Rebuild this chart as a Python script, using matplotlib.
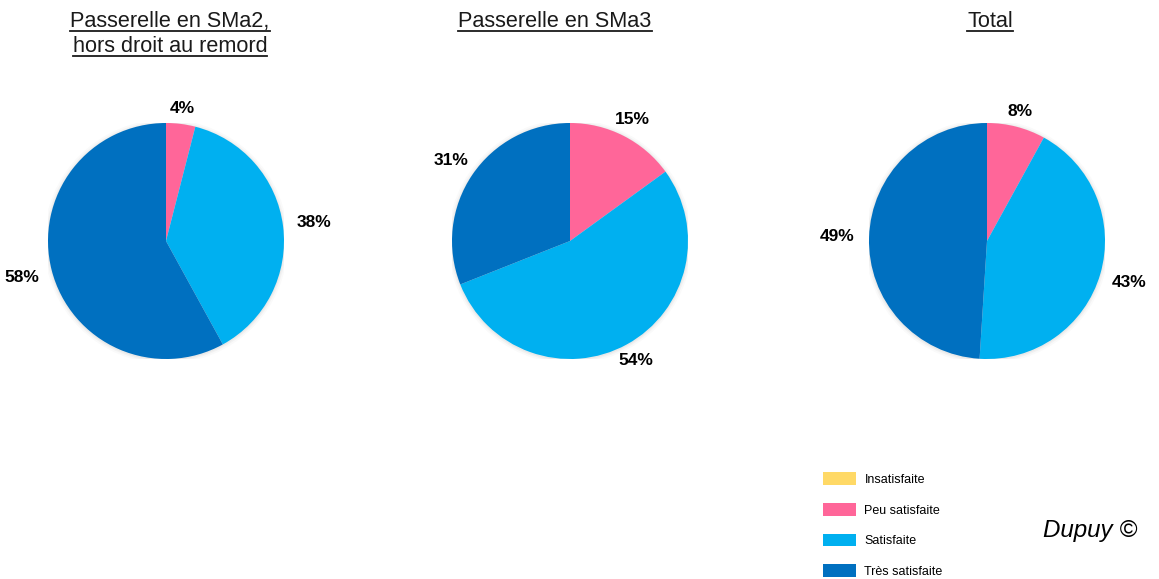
import math
import matplotlib
matplotlib.use('Agg')
import matplotlib.pyplot as plt
from matplotlib.patches import Patch, Circle

plt.rcParams['font.family'] = ['Liberation Sans', 'DejaVu Sans']

categories = ["Insatisfaite", "Peu satisfaite", "Satisfaite", "Très satisfaite"]
colors = ["#FFD966", "#FF6699", "#00B0F0", "#0070C0"]

titles = ["Passerelle en SMa2,\nhors droit au remord", "Passerelle en SMa3", "Total"]
values_sma2 = [0, 4, 38, 58]
values_sma3 = [0, 15, 54, 31]
values_total = [0, 8, 43, 49]

W, H = 1159, 579
fig = plt.figure(figsize=(W / 100, H / 100), dpi=100)

centers = [166, 570, 987]
cy = 241
r = 118
title_x = [170, 555, 990]
title_size = 15.6

for cx, vals, tx, title in zip(centers, [values_sma2, values_sma3, values_total], title_x, titles):
    ax = fig.add_axes([(cx - r) / W, (H - cy - r) / H, 2 * r / W, 2 * r / H])
    ax.axis('off')
    # petite ombre
    for k, a in [(1.035, 0.04), (1.02, 0.06), (1.008, 0.08)]:
        ax.add_patch(Circle((0.0, -0.005), k, color='gray', alpha=a, lw=0, zorder=0))
    ax.pie(vals, colors=colors, startangle=90, counterclock=False,
           radius=1, wedgeprops=dict(linewidth=0))
    ax.set_xlim(-1, 1)
    ax.set_ylim(-1, 1)
    # etiquettes en pourcentage
    tot = sum(vals)
    cum = 0
    for v in vals:
        if v > 0:
            mid = (cum + v / 2) / tot * 360
            ang = math.radians(90 - mid)
            c, s = math.cos(ang), math.sin(ang)
            d = 1 / math.sqrt((c / 1.27) ** 2 + (s / 1.13) ** 2)
            ax.text(d * c, d * s, f"{v}%", ha='center', va='center',
                    fontsize=12.5, fontweight='bold', clip_on=False)
        cum += v
    # titre souligne, ligne par ligne
    for i, line in enumerate(title.split("\n")):
        yb = 27 + 25 * i
        t = fig.text(tx / W, 1 - yb / H, line, ha='center', va='baseline',
                     fontsize=title_size, color='#1a1a1a')
        fig.canvas.draw()
        bb = t.get_window_extent(fig.canvas.get_renderer())
        yu = (H - yb - 3.5) / H
        fig.add_artist(plt.Line2D([bb.x0 / W, bb.x1 / W], [yu, yu], color='#1a1a1a', lw=1.3))

handles = [Patch(facecolor=c, edgecolor='none') for c in colors]
fig.legend(handles, categories, loc='upper left', bbox_to_anchor=(812 / W, 1 - 461 / H),
           frameon=False, fontsize=9, handlelength=2.6, handleheight=1.2,
           labelspacing=1.36, handletextpad=0.7)

fig.text(1090 / W, 1 - 530 / H, "Dupuy ©", ha='center', va='center', fontsize=17.4, style='italic')

plt.savefig("out.png", dpi=100)
plt.close()
